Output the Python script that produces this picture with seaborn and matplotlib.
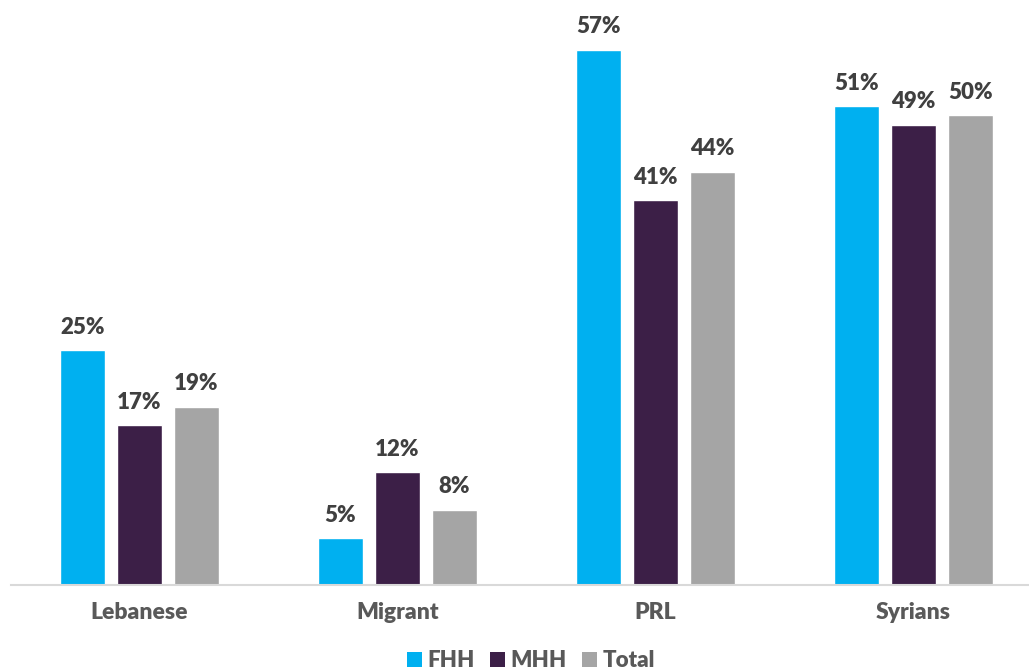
import matplotlib
matplotlib.use("Agg")
import matplotlib.pyplot as plt
import seaborn as sns
import pandas as pd
from matplotlib.patches import Patch

categories = ["Lebanese", "Migrant", "PRL", "Syrians"]
series_names = ["FHH", "MHH", "Total"]
fhh = [25, 5, 57, 51]
mhh = [17, 12, 41, 49]
total = [19, 8, 44, 50]
colors = ["#00B0F0", "#3C1F47", "#A5A5A5"]

rows = []
for name, vals in zip(series_names, [fhh, mhh, total]):
    for cat, v in zip(categories, vals):
        rows.append({"group": cat, "series": name, "value": v})
df = pd.DataFrame(rows)

sns.set_theme(style="white")
plt.rcParams["font.family"] = ["Lato", "DejaVu Sans"]

W, H = 1029, 671
fig = plt.figure(figsize=(W / 100, H / 100), dpi=100)
ax = fig.add_axes([10.5 / W, (H - 585) / H, 1032 / W, 585 / H])

sns.barplot(data=df, x="group", y="value", hue="series", order=categories,
            hue_order=series_names, palette=colors, width=0.663, gap=0.21,
            saturation=1, ax=ax, legend=False)

for cont in ax.containers:
    ax.bar_label(cont, labels=[f"{v:.0f}%" for v in cont.datavalues],
                 padding=9, fontsize=16, fontweight="heavy", color="#404040")

ax.set_ylim(0, 62.3)
ax.set_xlim(-0.5, 3.5)
ax.set_xlabel("")
ax.set_ylabel("")
ax.set_yticks([])
for s in ["top", "right", "left"]:
    ax.spines[s].set_visible(False)
ax.spines["bottom"].set_color("#D9D9D9")
ax.spines["bottom"].set_linewidth(1.5)
ax.tick_params(axis="x", length=0, pad=12, labelsize=16.5, labelcolor="#595959")
for t in ax.get_xticklabels():
    t.set_fontweight("heavy")

handles = [Patch(facecolor=c, edgecolor="none") for c in colors]
fig.legend(handles, series_names, loc="lower center", bbox_to_anchor=(0.516, -0.03),
           ncol=3, frameon=False, handlelength=0.65, handleheight=0.7,
           handletextpad=0.25, columnspacing=0.7,
           prop={"size": 16, "weight": "heavy"}, labelcolor="#595959")

fig.savefig("out.png", dpi=100)
